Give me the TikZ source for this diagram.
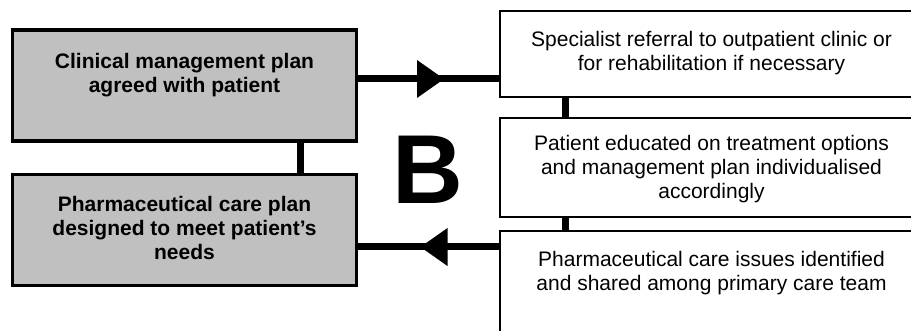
\documentclass[tikz,border=0pt]{standalone}
\usepackage{fontspec}
\setmainfont{Liberation Sans}
\usetikzlibrary{decorations.markings}
\definecolor{boxgray}{HTML}{C0C0C0}
\begin{document}
\begin{tikzpicture}[x=1pt,y=1pt,
  planbox/.style={draw, line width=3.3pt, fill=boxgray, minimum width=343.7pt,
    minimum height=111pt, inner sep=0pt},
  stagebox/.style={draw, line width=2pt, minimum width=425pt, inner sep=0pt},
  boldtxt/.style={font=\fontsize{21}{24}\selectfont\bfseries, align=center,
    inner sep=0pt, anchor=north},
  plaintxt/.style={font=\fontsize{21}{24}\selectfont, align=center,
    inner sep=0pt, anchor=north},
  link/.style={line width=7pt},
  midhead/.style={postaction={decorate}, decoration={markings,
    mark=at position #1 with {\fill (-13.5,19) -- (13.5,0) -- (-13.5,-19) -- cycle;}}}
]
\useasboundingbox (0,0) rectangle (911,-331);
\clip (0,0) rectangle (911,-331);

% left column: plans
\node[planbox] (clin) at (184.5,-85.5) {};
\node[planbox] (pharm) at (184.5,-230) {};
\node[boldtxt] (clintxt) at (184.5,-52.7) {Clinical management plan\\agreed with patient};
\node[boldtxt] (pharmtxt) at (184.5,-195.7) {Pharmaceutical care plan\\designed to meet patient’s\\needs};

% right column: steps (run off the page edge)
\node[stagebox, minimum height=86pt] (ref) at (712.5,-54) {};
\node[stagebox, minimum height=99pt] (edu) at (712.5,-167.5) {};
\node[stagebox, minimum height=114pt] (issues) at (712.5,-288) {};
\node[plaintxt] (reftxt) at (711.5,-30.7) {Specialist referral to outpatient clinic or\\for rehabilitation if necessary};
\node[plaintxt] (edutxt) at (711.5,-134.7) {Patient educated on treatment options\\and management plan individualised\\accordingly};
\node[plaintxt] (issuestxt) at (711.5,-250.7) {Pharmaceutical care issues identified\\and shared among primary care team};

% panel letter
\node[font=\fontsize{98}{98}\selectfont\bfseries, inner sep=0pt, anchor=base] (letter) at (427.5,-204) {B};

% connectors
\draw[link] ([xshift=115.5]clin.south) -- ([xshift=115.5]pharm.north);
\draw[link] ([xshift=-147.5]ref.south) -- ([xshift=-147.5]edu.north);
\draw[link] ([xshift=-147.5]edu.south) -- ([xshift=-147.5]issues.north);
\draw[link, midhead=72.5pt] ([yshift=6.5]clin.east) -- ([yshift=6.5]clin.east -| ref.west);
\draw[link, midhead=65pt] ([yshift=-17]pharm.east -| issues.west) -- ([yshift=-17]pharm.east);
\end{tikzpicture}
\end{document}
